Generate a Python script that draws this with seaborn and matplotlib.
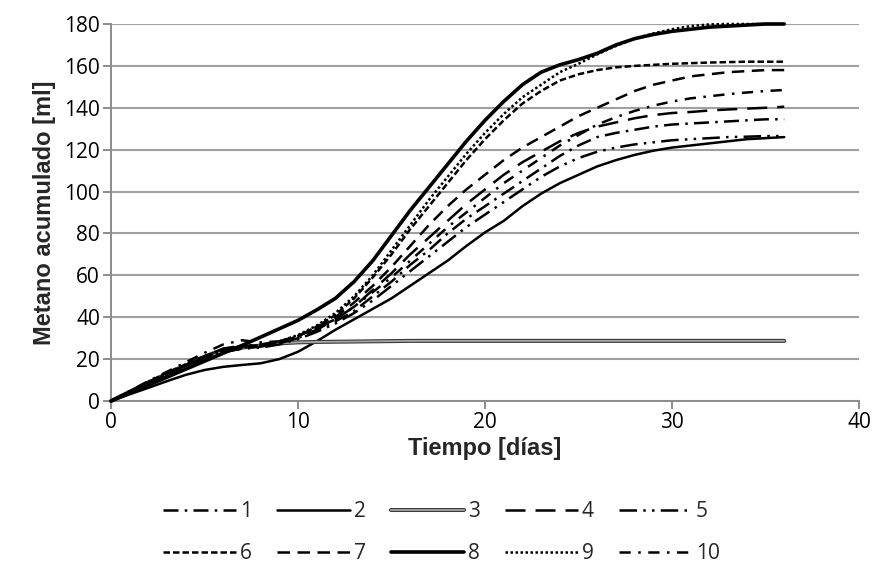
import matplotlib
matplotlib.use("Agg")
import matplotlib.pyplot as plt
import matplotlib.patheffects as pe
import seaborn as sns
import pandas as pd

# Cumulative methane per reactor, sampled daily
dias = list(range(0, 37))

serie_1 = [0, 4.5, 9, 13.5, 17.5, 21.5, 25, 26.5, 26.5, 27.5, 30, 34, 38, 43, 50, 57, 65, 72, 80, 87,
           93, 99, 105, 111, 117, 122, 126, 128, 129.5, 131, 132, 132.5, 133, 133.5, 134, 134.5, 134.5]
serie_2 = [0, 3.2, 6.3, 9.5, 12.5, 14.8, 16.3, 17.2, 18, 20, 23.5, 28.5, 34, 39, 44, 49, 55, 61, 67, 74,
           80.5, 86, 93, 99, 104, 108, 112, 115, 117.5, 119.5, 121, 122, 123, 124, 125, 125.5, 126]
serie_3 = [0, 4.4, 8.8, 13, 17, 20.5, 23.5, 25.5, 26.5, 27.5, 28, 28.2, 28.3, 28.4, 28.5, 28.6, 28.7, 28.7, 28.7, 28.7,
           28.7, 28.7, 28.7, 28.7, 28.7, 28.7, 28.7, 28.7, 28.7, 28.7, 28.7, 28.7, 28.7, 28.7, 28.7, 28.7, 28.7]
serie_4 = [0, 4.4, 8.8, 13, 17, 20.5, 23.5, 25, 26, 27.5, 30, 34, 39, 45, 53, 61, 70, 78, 86, 94,
           101, 108, 114, 119, 124, 128, 131, 133, 135, 136.5, 137.5, 138, 138.7, 139.2, 139.6, 140, 140.5]
serie_5 = [0, 4.3, 8.6, 12.8, 16.8, 20.5, 23.5, 25, 25.5, 27, 29.5, 33, 37, 42, 48, 55, 62, 69, 76, 83,
           89, 95, 101, 107, 112, 116, 119, 121, 122.5, 123.5, 124.5, 125, 125.5, 126, 126.2, 126.5, 126.5]
serie_6 = [0, 4.6, 9.2, 13.5, 17.5, 21.5, 25, 26, 26.5, 28, 31, 35.5, 41, 49, 59, 70, 82, 93, 104, 115,
           125, 134, 142, 148, 153, 156, 158, 159.3, 160, 160.5, 161, 161.3, 161.6, 161.8, 162, 162, 162]
serie_7 = [0, 4.5, 9, 13, 17, 21, 24.5, 26, 27, 28.5, 31, 35, 40, 47, 55, 64, 74, 84, 93, 101,
           108, 115, 121, 126, 131, 136, 140, 144, 148, 151, 153, 155, 156, 157, 157.5, 158, 158]
serie_8 = [0, 3.8, 7.6, 11.4, 15.2, 19, 22.8, 26.5, 30.5, 34.5, 38.5, 43.5, 49, 57, 67, 79, 91, 102, 113, 124,
           134, 143, 151, 157, 160.5, 163, 166, 170, 173, 175, 176.5, 177.5, 178.5, 179, 179.5, 180, 180]
serie_9 = [0, 4.5, 9, 13, 17, 21, 24, 25.5, 26.5, 28.5, 31.5, 36, 42, 50, 60, 72, 84, 96, 107, 118,
           128, 137, 145, 151, 157, 161, 165.5, 169.5, 173, 175.5, 177.5, 179, 179.8, 180, 180, 180, 180]
serie_10 = [0, 4.8, 9.5, 14, 18.5, 23, 27, 29, 28, 28.5, 31, 35, 39, 45, 52, 59, 67, 75, 83, 90,
            97, 104, 110, 116, 122, 127, 132, 135.5, 138.5, 141, 143, 144.5, 145.5, 146.5, 147.3, 148, 148.5]

nombres = ["1", "2", "3", "4", "5", "6", "7", "8", "9", "10"]
series = [serie_1, serie_2, serie_3, serie_4, serie_5, serie_6, serie_7, serie_8, serie_9, serie_10]

y_ticks = [0, 20, 40, 60, 80, 100, 120, 140, 160, 180]
x_ticks = [0, 10, 20, 30, 40]

df = pd.DataFrame({"Tiempo": dias * len(nombres),
                   "Reactor": [n for n in nombres for _ in dias],
                   "Metano": [v for s in series for v in s]})

sns.set_theme(style="white")
plt.rcParams["font.family"] = ["Open Sans", "DejaVu Sans"]

estilos = {
    "1": dict(ls=(0, (6, 2.5, 1, 2.5)), lw=1.8),
    "2": dict(ls="-", lw=1.8),
    "3": dict(ls="-", lw=1.3, color="#a6a6a6",
              path_effects=[pe.Stroke(linewidth=2.9, foreground="#3a3a3a"), pe.Normal()]),
    "4": dict(ls=(0, (8, 4)), lw=1.8),
    "5": dict(ls=(0, (7, 2.5, 1, 2.5, 1, 2.5)), lw=1.8),
    "6": dict(ls=(0, (2.6, 1.2)), lw=1.8),
    "7": dict(ls=(0, (5, 3)), lw=1.8),
    "8": dict(ls="-", lw=2.6),
    "9": dict(ls=(0, (1, 1)), lw=1.8),
    "10": dict(ls=(0, (4.5, 3, 1, 3)), lw=1.8),
}

fig = plt.figure(figsize=(8.74, 5.64), dpi=100)
ax = fig.add_axes([111 / 874, 1 - 401 / 564, (859 - 111) / 874, (401 - 24) / 564])

for nombre in nombres:
    sub = df[df["Reactor"] == nombre]
    kw = dict(estilos[nombre])
    color = kw.pop("color", "black")
    sns.lineplot(data=sub, x="Tiempo", y="Metano", ax=ax, color=color,
                 label=nombre, clip_on=False, zorder=3, **kw)

ax.set_xlim(0, 40)
ax.set_ylim(0, 180)
ax.set_xticks(x_ticks)
ax.set_yticks(y_ticks)
ax.yaxis.grid(True, color="#a0a0a0", lw=1.5)
ax.set_axisbelow(True)
for side in ("top", "right"):
    ax.spines[side].set_visible(False)
for side in ("left", "bottom"):
    ax.spines[side].set_color("#8c8c8c")
    ax.spines[side].set_linewidth(1.4)
ax.tick_params(axis="both", which="major", direction="out", length=6, width=1.4,
               color="#8c8c8c", labelsize=15, labelcolor="black", pad=2,
               bottom=True, left=True)

ax.set_xlabel("Tiempo [días]", fontsize=17, fontweight="bold",
              family=["Liberation Sans", "DejaVu Sans"], labelpad=3)
ax.set_ylabel("Metano acumulado [ml]", fontsize=17, fontweight="bold",
              family=["Liberation Sans", "DejaVu Sans"], labelpad=6)

handles, labels = ax.get_legend_handles_labels()
orden = [0, 5, 1, 6, 2, 7, 3, 8, 4, 9]
ax.legend([handles[i] for i in orden], [labels[i] for i in orden],
          ncol=5, loc="upper center", bbox_to_anchor=(0.505, 0.145), bbox_transform=fig.transFigure,
          frameon=False, fontsize=15, handlelength=3.5, handletextpad=0.2,
          columnspacing=1.2, labelspacing=1.0)

fig.savefig("out.png", dpi=100)
